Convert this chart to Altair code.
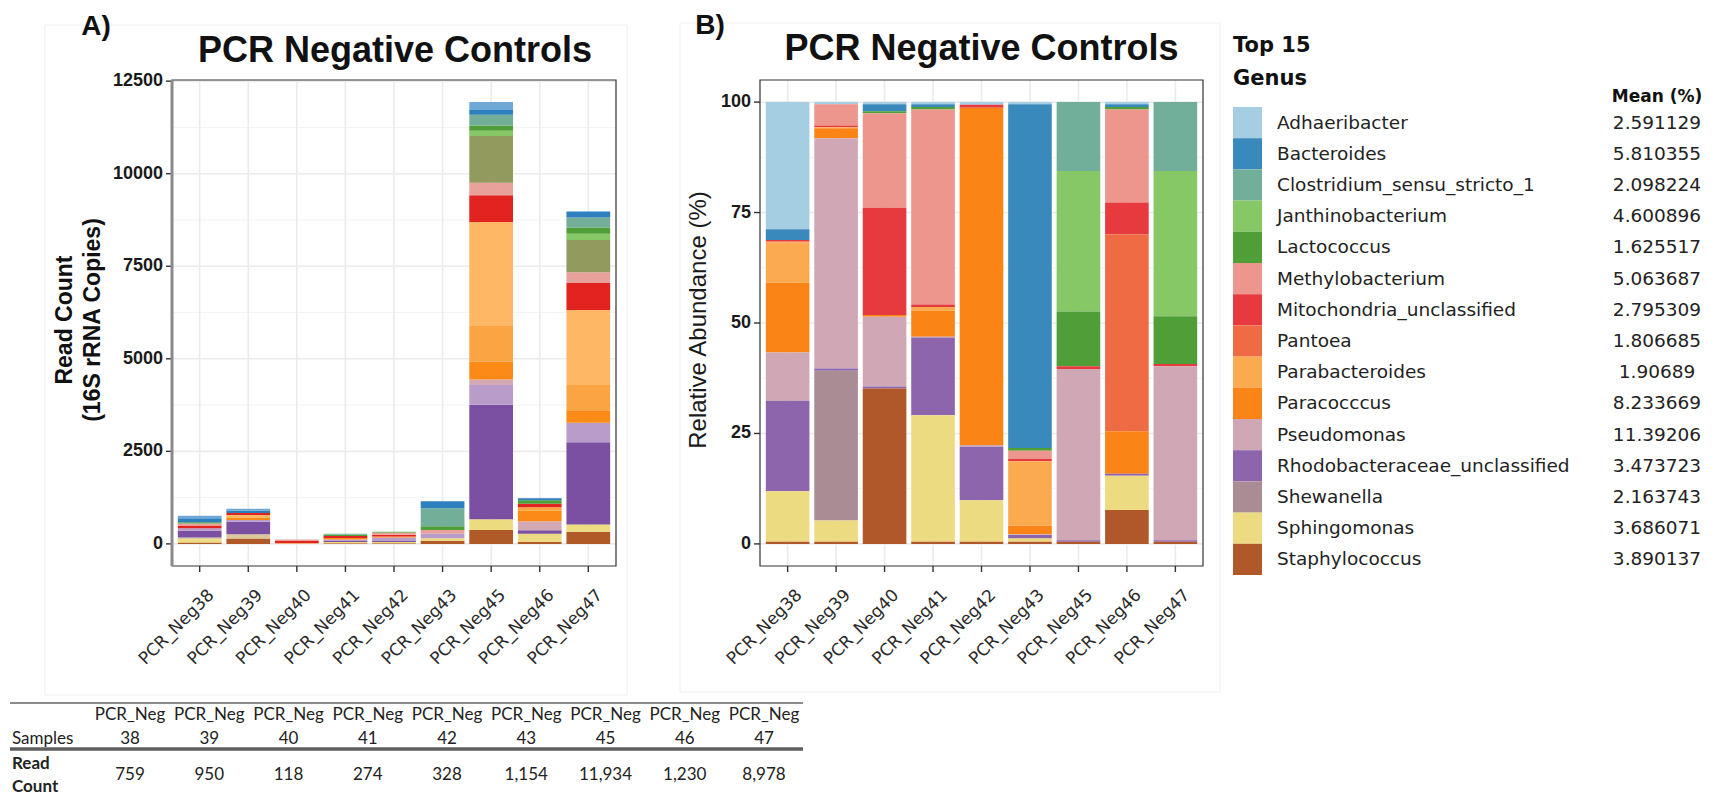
import altair as alt
import pandas as pd

# ---------------------------------------------------------------- data
SAMPLES = ["PCR_Neg38", "PCR_Neg39", "PCR_Neg40", "PCR_Neg41", "PCR_Neg42",
           "PCR_Neg43", "PCR_Neg45", "PCR_Neg46", "PCR_Neg47"]
SAMPLE_IDS = ["38", "39", "40", "41", "42", "43", "45", "46", "47"]
READ_COUNTS = [759, 950, 118, 274, 328, 1154, 11934, 1230, 8978]

# Panel A: read counts per taxon and sample, stacked bottom -> top
A_T01 = [36, 144, 0, 20, 20, 87, 377, 57, 329]
A_T02 = [90, 0, 20, 30, 30, 68, 290, 219, 193]
A_T03 = [45, 115, 0, 0, 0, 0, 0, 0, 0]
A_T04 = [181, 336, 0, 40, 40, 0, 3094, 95, 2222]
A_T05 = [72, 48, 0, 30, 80, 126, 532, 0, 531]
A_T06 = [0, 0, 0, 0, 0, 0, 145, 238, 0]
A_T07 = [0, 58, 0, 40, 30, 0, 484, 286, 338]
A_T08 = [0, 0, 0, 0, 0, 0, 967, 95, 676]
A_T09 = [0, 77, 0, 0, 0, 0, 2806, 0, 2032]
A_T10 = [72, 58, 60, 50, 50, 0, 725, 95, 725]
A_T11 = [54, 0, 38, 0, 60, 97, 338, 0, 290]
A_T12 = [0, 0, 0, 0, 0, 0, 1257, 0, 870]
A_T13 = [0, 0, 0, 0, 0, 0, 145, 0, 169]
A_T14 = [36, 0, 0, 34, 18, 97, 145, 95, 169]
A_T15 = [0, 0, 0, 30, 0, 485, 290, 0, 270]
A_T16 = [108, 67, 0, 0, 0, 194, 126, 50, 164]
A_T17 = [65, 47, 0, 0, 0, 0, 213, 0, 0]
A_TAXA = ["T01", "T02", "T03", "T04", "T05", "T06", "T07", "T08", "T09",
          "T10", "T11", "T12", "T13", "T14", "T15", "T16", "T17"]
A_SERIES = [A_T01, A_T02, A_T03, A_T04, A_T05, A_T06, A_T07, A_T08, A_T09,
            A_T10, A_T11, A_T12, A_T13, A_T14, A_T15, A_T16, A_T17]
A_PALETTE = ["#b05a28", "#ecdb7f", "#dcc99a", "#7b4fa2", "#b99cca", "#d4a9b6",
             "#fb8a16", "#fba443", "#fdb765", "#e2231f", "#e9a29b", "#939a5d",
             "#86c766", "#4f9e38", "#72ae98", "#2d7fbd", "#6fa8d6"]

# Panel B: relative abundance (%) of the top 15 genera
GENERA = ["Adhaeribacter", "Bacteroides", "Clostridium_sensu_stricto_1",
          "Janthinobacterium", "Lactococcus", "Methylobacterium",
          "Mitochondria_unclassified", "Pantoea", "Parabacteroides",
          "Paracocccus", "Pseudomonas", "Rhodobacteraceae_unclassified",
          "Shewanella", "Sphingomonas", "Staphylococcus"]
MEANS = ["2.591129", "5.810355", "2.098224", "4.600896", "1.625517",
         "5.063687", "2.795309", "1.806685", "1.90689", "8.233669",
         "11.39206", "3.473723", "2.163743", "3.686071", "3.890137"]
ADHAERIBACTER = [28.8, 0.5, 0.5, 0.5, 0.6, 0.5, 0, 0.5, 0]
BACTEROIDES = [2.4, 0, 1.6, 0.6, 0, 77.8, 0, 0.6, 0]
CLOSTRIDIUM = [0, 0, 0, 0, 0, 0, 15.6, 0, 15.6]
JANTHINOBACTERIUM = [0, 0, 0, 0, 0, 0, 31.8, 0, 32.9]
LACTOCOCCUS = [0, 0, 0.4, 0.6, 0, 0.6, 12.4, 0.6, 10.8]
METHYLOBACTERIUM = [0, 4.8, 21.4, 44.1, 0, 1.8, 0, 21.0, 0]
MITOCHONDRIA = [0.3, 0.4, 24.3, 0.6, 0.7, 0.6, 0.6, 7.2, 0.5]
PANTOEA = [0.3, 0, 0, 0, 0, 0, 0, 44.6, 0]
PARABACTEROIDES = [9.1, 0.2, 0, 0.8, 0, 14.6, 0, 0, 0]
PARACOCCUS = [15.8, 2.3, 0.4, 5.9, 76.3, 1.9, 0, 9.6, 0]
PSEUDOMONAS = [10.9, 52.1, 15.8, 0.2, 0.4, 0.2, 38.8, 0, 39.4]
RHODOBACTERACEAE = [20.5, 0.5, 0.4, 17.6, 12.1, 0.8, 0.3, 0.5, 0.3]
SHEWANELLA = [0, 33.9, 0, 0, 0, 0, 0, 0, 0]
SPHINGOMONAS = [11.4, 4.8, 0, 28.6, 9.4, 0.7, 0, 7.7, 0]
STAPHYLOCOCCUS = [0.5, 0.5, 35.2, 0.5, 0.5, 0.5, 0.5, 7.7, 0.5]
B_SERIES = [ADHAERIBACTER, BACTEROIDES, CLOSTRIDIUM, JANTHINOBACTERIUM,
            LACTOCOCCUS, METHYLOBACTERIUM, MITOCHONDRIA, PANTOEA,
            PARABACTEROIDES, PARACOCCUS, PSEUDOMONAS, RHODOBACTERACEAE,
            SHEWANELLA, SPHINGOMONAS, STAPHYLOCOCCUS]
B_PALETTE = ["#a6cee3", "#3a89bd", "#72af9b", "#86c766", "#4f9e38",
             "#ec968e", "#e73a3f", "#ef6b44", "#fbaa4f", "#fb8416",
             "#d0a7b4", "#8d65ad", "#a98c94", "#ecdb80", "#b0582a"]

A_TICKS = [0, 2500, 5000, 7500, 10000, 12500]
A_MINOR = [1250, 3750, 6250, 8750, 11250]
B_TICKS = [0, 25, 50, 75, 100]
B_MINOR = [12.5, 37.5, 62.5, 87.5]

# ---------------------------------------------------------------- tables
a_rows = []
for rank, (taxon, counts) in enumerate(zip(A_TAXA, A_SERIES)):
    for s, c in zip(SAMPLES, counts):
        if c > 0:
            a_rows.append({"sample": s, "taxon": taxon, "count": c, "rank": rank})
df_a = pd.DataFrame(a_rows)

b_rows = []
for i, (genus, vals) in enumerate(zip(GENERA, B_SERIES)):
    for s, v in zip(SAMPLES, vals):
        if v > 0:
            b_rows.append({"sample": s, "genus": genus, "pct": v,
                           "rank": len(GENERA) - 1 - i})
df_b = pd.DataFrame(b_rows)

one = pd.DataFrame({"k": [0]})
samples_df = pd.DataFrame({"s": SAMPLES, "num": SAMPLE_IDS,
                           "prefix": ["PCR_Neg"] * len(SAMPLES),
                           "reads": [f"{v:,}" for v in READ_COUNTS]})
legend_df = pd.DataFrame({"genus": GENERA, "mean": MEANS})

# ---------------------------------------------------------------- geometry
AX0, AX1, BX0, BX1 = 172, 616, 760, 1203
TOP, BOT = 80, 566

xA = alt.Scale(type="band", domain=SAMPLES, range=[AX0, AX1],
               paddingInner=0.1, paddingOuter=0.12)
yA = alt.Scale(domain=[-597, 12531], range=[BOT, TOP], nice=False, zero=False)
xB = alt.Scale(type="band", domain=SAMPLES, range=[BX0, BX1],
               paddingInner=0.1, paddingOuter=0.12)
yB = alt.Scale(domain=[-5, 105], range=[BOT, TOP], nice=False, zero=False)
colA = alt.Scale(domain=A_TAXA, range=A_PALETTE)
colB = alt.Scale(domain=GENERA, range=B_PALETTE)
legY = alt.Scale(type="band", domain=GENERA, range=[107, 575],
                 paddingInner=0, paddingOuter=0)
tabX = alt.Scale(type="point", domain=SAMPLES, range=[130, 764], padding=0)

SANS = "Liberation Sans"
GRID = "#ebebeb"


def box(x0, x1, y0, y1, stroke, width, fill=None):
    kw = dict(stroke=stroke, strokeWidth=width)
    if fill is None:
        kw["fillOpacity"] = 0
    else:
        kw["fill"] = fill
    return alt.Chart(one).mark_rect(**kw).encode(
        x=alt.value(x0), x2=alt.value(x1), y=alt.value(y0), y2=alt.value(y1))


def label(text, x, y, size, weight="normal", font=SANS, align="center",
          angle=0, color="#111111", baseline="middle"):
    return alt.Chart(pd.DataFrame({"t": [text]})).mark_text(
        font=font, fontSize=size, fontWeight=weight, align=align,
        baseline=baseline, angle=angle, color=color).encode(
        x=alt.value(x), y=alt.value(y), text="t:N")


def panel(xs, ys, x0, x1, ticks, minor, tick_labels):
    out = []
    out.append(alt.Chart(pd.DataFrame({"v": minor})).mark_rule(
        color="#f3f3f3", strokeWidth=1).encode(
        y=alt.Y("v:Q", scale=ys, axis=None), x=alt.value(x0), x2=alt.value(x1)))
    out.append(alt.Chart(pd.DataFrame({"v": ticks})).mark_rule(
        color=GRID, strokeWidth=1.6).encode(
        y=alt.Y("v:Q", scale=ys, axis=None), x=alt.value(x0), x2=alt.value(x1)))
    out.append(alt.Chart(samples_df).mark_rule(color=GRID, strokeWidth=1.6).encode(
        x=alt.X("s:N", scale=xs, axis=None, bandPosition=0.5),
        y=alt.value(TOP), y2=alt.value(BOT)))
    # y ticks and labels
    out.append(alt.Chart(pd.DataFrame({"v": ticks})).mark_rule(
        color="#333333", strokeWidth=1.4).encode(
        y=alt.Y("v:Q", scale=ys, axis=None), x=alt.value(x0 - 6), x2=alt.value(x0)))
    out.append(alt.Chart(pd.DataFrame({"v": ticks, "lab": tick_labels})).mark_text(
        font=SANS, fontSize=18, fontWeight="bold", align="right",
        baseline="middle", color="#1a1a1a").encode(
        y=alt.Y("v:Q", scale=ys, axis=None), x=alt.value(x0 - 9), text="lab:N"))
    # x ticks and rotated sample labels
    out.append(alt.Chart(samples_df).mark_rule(color="#333333", strokeWidth=1.4).encode(
        x=alt.X("s:N", scale=xs, axis=None, bandPosition=0.5),
        y=alt.value(BOT), y2=alt.value(BOT + 6)))
    out.append(alt.Chart(samples_df).mark_text(
        font="DejaVu Sans", fontSize=17, align="right", baseline="top",
        angle=315, color="#2a2a2a", xOffset=6).encode(
        x=alt.X("s:N", scale=xs, axis=None, bandPosition=0.5),
        y=alt.value(BOT + 21), text="s:N"))
    return out


layers = []

# faint panel backdrops
layers.append(box(45, 627, 25, 695, "#eeeeee", 1))
layers.append(box(680, 1220, 23, 692, "#eeeeee", 1))

# ---- panel A
layers += panel(xA, yA, AX0, AX1, A_TICKS, A_MINOR, [str(t) for t in A_TICKS])
layers.append(alt.Chart(df_a).mark_bar().encode(
    x=alt.X("sample:N", scale=xA, axis=None),
    y=alt.Y("count:Q", stack="zero", scale=yA, axis=None),
    color=alt.Color("taxon:N", scale=colA, legend=None),
    order=alt.Order("rank:Q", sort="ascending")))
layers.append(box(AX0, AX1, TOP, BOT, "#333333", 1.2))
layers.append(alt.Chart(one).mark_rule(color="#8a8a8a", strokeWidth=3).encode(
    x=alt.value(AX0), y=alt.value(TOP), y2=alt.value(BOT)))

# ---- panel B
layers += panel(xB, yB, BX0, BX1, B_TICKS, B_MINOR, [str(t) for t in B_TICKS])
layers.append(alt.Chart(df_b).mark_bar().encode(
    x=alt.X("sample:N", scale=xB, axis=None),
    y=alt.Y("pct:Q", stack="zero", scale=yB, axis=None),
    color=alt.Color("genus:N", scale=colB, legend=None),
    order=alt.Order("rank:Q", sort="ascending")))
layers.append(box(BX0, BX1, TOP, BOT, "#333333", 1.2))

# ---- titles
layers.append(label("A)", 96, 27, 28, "bold"))
layers.append(label("B)", 710, 26, 28, "bold"))
layers.append(label("PCR Negative Controls", (AX0 + AX1) / 2 + 1, 51, 36, "bold"))
layers.append(label("PCR Negative Controls", (BX0 + BX1) / 2, 49, 36, "bold"))
layers.append(label("Read Count", 65, 320, 23, "bold", angle=270))
layers.append(label("(16S rRNA Copies)", 93, 320, 23, "bold", angle=270))
layers.append(label("Relative Abundance (%)", 699, 320, 24, angle=270,
                    color="#1a1a1a"))

# ---- legend
layers.append(label("Top 15", 1233, 46, 21, "bold", font="DejaVu Sans", align="left"))
layers.append(label("Genus", 1233, 79, 21, "bold", font="DejaVu Sans", align="left"))
layers.append(label("Mean (%)", 1657, 97, 17, "bold", font="DejaVu Sans"))
layers.append(alt.Chart(legend_df).mark_rect().encode(
    y=alt.Y("genus:N", scale=legY, axis=None),
    x=alt.value(1233), x2=alt.value(1262),
    color=alt.Color("genus:N", scale=colB, legend=None)))
layers.append(alt.Chart(legend_df).mark_text(
    font="DejaVu Sans", fontSize=18.5, align="left", baseline="middle",
    color="#222222").encode(
    y=alt.Y("genus:N", scale=legY, axis=None, bandPosition=0.5),
    x=alt.value(1277), text="genus:N"))
layers.append(alt.Chart(legend_df).mark_text(
    font="DejaVu Sans", fontSize=18.5, align="center", baseline="middle",
    color="#222222").encode(
    y=alt.Y("genus:N", scale=legY, axis=None, bandPosition=0.5),
    x=alt.value(1657), text="mean:N"))

# ---- read-count table
TAB = "Lato"
layers.append(alt.Chart(one).mark_rule(color="#8c8c8c", strokeWidth=2).encode(
    x=alt.value(10), x2=alt.value(803), y=alt.value(703)))
layers.append(alt.Chart(one).mark_rule(color="#5e5e5e", strokeWidth=3.5).encode(
    x=alt.value(10), x2=alt.value(803), y=alt.value(749)))
layers.append(label("Samples", 12, 739, 17, font=TAB, align="left", color="#222222"))
layers.append(label("Read", 12, 764, 17, "bold", font=TAB, align="left", color="#222222"))
layers.append(label("Count", 12, 787, 17, "bold", font=TAB, align="left", color="#222222"))
for field, ypos in [("prefix", 715), ("num", 739), ("reads", 775)]:
    layers.append(alt.Chart(samples_df).mark_text(
        font=TAB, fontSize=17, align="center", baseline="middle",
        color="#222222").encode(
        x=alt.X("s:N", scale=tabX, axis=None), y=alt.value(ypos),
        text=f"{field}:N"))

chart = alt.layer(*layers).resolve_scale(
    x="independent", y="independent", color="independent"
).properties(
    width=1713, height=796, padding=0, background="white",
    autosize=alt.AutoSizeParams(type="none"),
).configure_view(stroke=None)

chart.save("out.html", embed_options={"renderer": "svg", "actions": False})
